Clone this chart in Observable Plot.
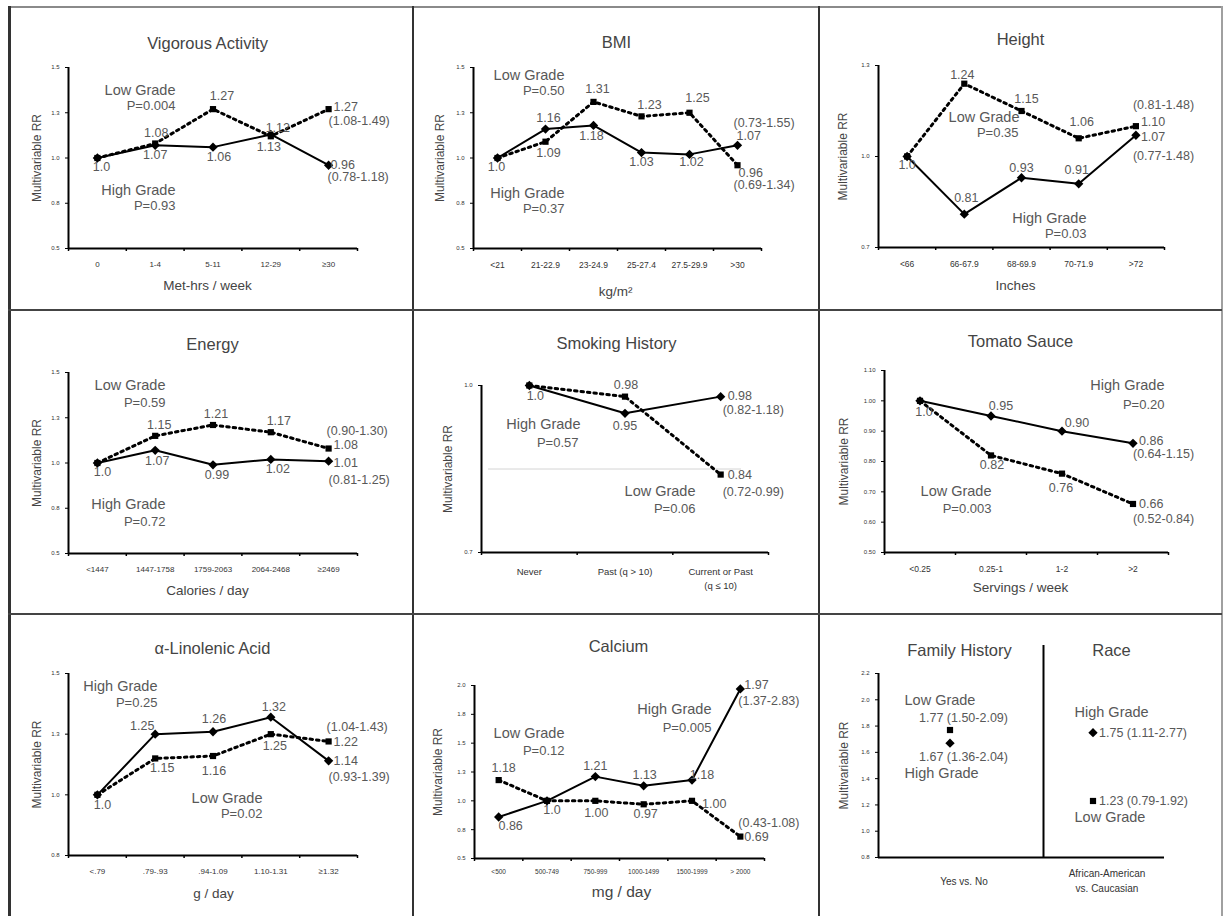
<!DOCTYPE html>
<html>
<head>
<meta charset="utf-8">
<script src="https://cdn.jsdelivr.net/npm/d3@7"></script>
<script src="https://cdn.jsdelivr.net/npm/@observablehq/plot@0.6"></script>
<style>
  html, body { margin: 0; padding: 0; background: #fff; }
  #page { position: relative; width: 1224px; height: 916px; overflow: hidden; background: #fff; }
  .bl { position: absolute; z-index: 5; }
</style>
</head>
<body>
<div id="page"></div>
<script>
// ---------------- DATA ----------------
const vigorousCats = ["0", "1-4", "5-11", "12-29", "≥30"];
const vigorousLow  = [1.00, 1.08, 1.27, 1.12, 1.27];
const vigorousHigh = [1.00, 1.07, 1.06, 1.13, 0.96];
const vigorousCI   = ["(1.08-1.49)", "(0.78-1.18)"];   // [low, high]
const vigorousP    = ["P=0.004", "P=0.93"];

const bmiCats = ["<21", "21-22.9", "23-24.9", "25-27.4", "27.5-29.9", ">30"];
const bmiLow  = [1.00, 1.09, 1.31, 1.23, 1.25, 0.96];
const bmiHigh = [1.00, 1.16, 1.18, 1.03, 1.02, 1.07];
const bmiCI   = ["(0.69-1.34)", "(0.73-1.55)"];
const bmiP    = ["P=0.50", "P=0.37"];

const heightCats = ["<66", "66-67.9", "68-69.9", "70-71.9", ">72"];
const heightLow  = [1.00, 1.24, 1.15, 1.06, 1.10];
const heightHigh = [1.00, 0.81, 0.93, 0.91, 1.07];
const heightCI   = ["(0.81-1.48)", "(0.77-1.48)"];
const heightP    = ["P=0.35", "P=0.03"];

const energyCats = ["<1447", "1447-1758", "1759-2063", "2064-2468", "≥2469"];
const energyLow  = [1.00, 1.15, 1.21, 1.17, 1.08];
const energyHigh = [1.00, 1.07, 0.99, 1.02, 1.01];
const energyCI   = ["(0.90-1.30)", "(0.81-1.25)"];
const energyP    = ["P=0.59", "P=0.72"];

const smokingCats = ["Never", "Past (q > 10)", "Current or Past\n(q ≤ 10)"];
const smokingLow  = [1.00, 0.98, 0.84];
const smokingHigh = [1.00, 0.95, 0.98];
const smokingCI   = ["(0.72-0.99)", "(0.82-1.18)"];
const smokingP    = ["P=0.06", "P=0.57"];

const tomatoCats = ["<0.25", "0.25-1", "1-2", ">2"];
const tomatoLow  = [1.00, 0.82, 0.76, 0.66];
const tomatoHigh = [1.00, 0.95, 0.90, 0.86];
const tomatoCI   = ["(0.52-0.84)", "(0.64-1.15)"];
const tomatoP    = ["P=0.003", "P=0.20"];

const linolenicCats = ["<.79", ".79-.93", ".94-1.09", "1.10-1.31", "≥1.32"];
const linolenicLow  = [1.00, 1.15, 1.16, 1.25, 1.22];
const linolenicHigh = [1.00, 1.25, 1.26, 1.32, 1.14];
const linolenicCI   = ["(1.04-1.43)", "(0.93-1.39)"];
const linolenicP    = ["P=0.02", "P=0.25"];

const calciumCats = ["<500", "500-749", "750-999", "1000-1499", "1500-1999", "> 2000"];
const calciumLow  = [1.18, 1.00, 1.00, 0.97, 1.00, 0.69];
const calciumHigh = [0.86, 1.00, 1.21, 1.13, 1.18, 1.97];
const calciumCI   = ["(0.43-1.08)", "(1.37-2.83)"];
const calciumP    = ["P=0.12", "P=0.005"];

const familyRaceCats   = ["Yes vs. No", "African-American\nvs. Caucasian"];
const familyRaceTitles = ["Family History", "Race"];
const familyRaceLow    = [1.77, 1.23];
const familyRaceHigh   = [1.67, 1.75];
const familyRaceLowCI  = ["(1.50-2.09)", "(0.79-1.92)"];
const familyRaceHighCI = ["(1.36-2.04)", "(1.11-2.77)"];

// tick values
const ticksHalfToOneHalf = [0.5, 0.75, 1.0, 1.25, 1.5];
const heightTicks     = [0.7, 1.0, 1.3];
const smokingTicks    = [0.7, 1.0];
const smokingGrid     = [0.85];
const tomatoTicks     = [0.5, 0.6, 0.7, 0.8, 0.9, 1.0, 1.1];
const linolenicTicks  = [0.75, 1.0, 1.25, 1.5];
const calciumTicks    = [0.5, 0.75, 1.0, 1.25, 1.5, 1.75, 2.0];
const familyRaceTicks = [0.8, 1.0, 1.2, 1.4, 1.6, 1.8, 2.0, 2.2];

const LOW = "Low Grade", HIGH = "High Grade", YLAB = "Multivariable RR";

// ---------------- LAYOUT ----------------
const FONT = '"Liberation Sans", Arial, Helvetica, sans-serif';
const TXT = "#585858";

const panels = [
  { cell: [9, 6, 404, 304], margin: [61, 56, 62, 59], cats: vigorousCats, low: vigorousLow, high: vigorousHigh, ci: vigorousCI, ref: 0,
    yDomain: [0.5, 1.5], yTicks: ticksHalfToOneHalf, yFmt: ".1f", catSize: 8,
    title: ["Vigorous Activity", 207, 43], xTitle: ["Met-hrs / week", 207, 285], yLabelX: 37,
    labels: [["h",0,4,9,"v"],["l",1,1,-11,"v"],["h",1,0,10,"v"],["l",2,9,-13,"v"],["h",2,6,10,"v"],["l",3,7,-8,"v"],["h",3,-2,13,"v"],
             ["l",4,5,-2,"vs"],["l",4,0,12,"ci"],["h",4,2,0,"vs"],["h",4,-1,12,"ci"]],
    groups: [[LOW,175,90],[vigorousP[0],175,105],[HIGH,175,190],[vigorousP[1],175,205]] },
  { cell: [413, 6, 405, 304], margin: [61, 57, 62, 60], cats: bmiCats, low: bmiLow, high: bmiHigh, ci: bmiCI, ref: 0,
    yDomain: [0.5, 1.5], yTicks: ticksHalfToOneHalf, yFmt: ".1f", catSize: 8.5,
    title: ["BMI", 616, 42], xTitle: ["kg/m²", 615, 291], yLabelX: 440,
    labels: [["h",0,-1,9,"v"],["h",1,3,-11,"v"],["l",1,3,11,"v"],["l",2,4,-13,"v"],["h",2,-2,11,"v"],["l",3,8,-11,"v"],["h",3,0,9,"v"],
             ["l",4,8,-15,"v"],["h",4,2,8,"v"],["h",5,-4,-22,"ci"],["h",5,-1,-9,"vs"],["l",5,1,8,"vs"],["l",5,-4,20,"ci"]],
    groups: [[LOW,564,75],[bmiP[0],564,90],[HIGH,564,193],[bmiP[1],564,208]] },
  { cell: [818, 6, 404, 304], margin: [59, 58, 63, 60], cats: heightCats, low: heightLow, high: heightHigh, ci: heightCI, ref: 0,
    yDomain: [0.7, 1.3], yTicks: heightTicks, yFmt: ".1f", catSize: 8.5,
    title: ["Height", 1020, 39], xTitle: ["Inches", 1015, 285], yLabelX: 843,
    labels: [["h",0,0,8,"v"],["l",1,-2,-9,"v"],["l",2,5,-12,"v"],["l",3,3,-16,"v"],["l",4,-3,-21,"ci"],["l",4,5,-4,"vs"],
             ["h",4,5,2,"vs"],["h",4,-3,21,"ci"],["h",2,0,-10,"v"],["h",3,-2,-14,"v"],["h",1,2,-16,"v"]],
    groups: [[LOW,1019,117],[heightP[0],1018,132],[HIGH,1086,218],[heightP[1],1086,233]] },
  { cell: [9, 310, 404, 304], margin: [62, 56, 61, 59], cats: energyCats, low: energyLow, high: energyHigh, ci: energyCI, ref: 0,
    yDomain: [0.5, 1.5], yTicks: ticksHalfToOneHalf, yFmt: ".1f", catSize: 8,
    title: ["Energy", 212, 344], xTitle: ["Calories / day", 207, 590], yLabelX: 37,
    labels: [["h",0,5,9,"v"],["l",1,4,-11,"v"],["l",2,3,-11,"v"],["l",3,8,-11,"v"],["l",4,-2,-18,"ci"],["l",4,5,-4,"vs"],
             ["h",4,5,2,"vs"],["h",4,0,19,"ci"],["h",1,2,11,"v"],["h",2,4,10,"v"],["h",3,7,10,"v"]],
    groups: [[LOW,165,385],[energyP[0],165,402],[HIGH,165,504],[energyP[1],165,521]] },
  { cell: [413, 310, 405, 304], margin: [75, 50, 62, 68], cats: smokingCats, low: smokingLow, high: smokingHigh, ci: smokingCI, ref: 0,
    yDomain: [0.7, 1.0], yTicks: smokingTicks, yFmt: ".1f", catSize: 9.5, catLH: 1.55,
    grid: smokingGrid, gridInset: [7, 27],
    title: ["Smoking History", 616, 343], xTitle: null, yLabelX: 448,
    labels: [["h",0,6,10,"v"],["l",1,1,-12,"v"],["h",1,0,13,"v"],["h",2,7,-1,"vs"],["h",2,2,13,"ci"],["l",2,7,0,"vs"],["l",2,2,17,"ci"]],
    groups: [[HIGH,580,424],[smokingP[1],578,442],[LOW,695,491],[smokingP[0],695,508]] },
  { cell: [818, 310, 404, 304], margin: [60, 54, 62, 66], cats: tomatoCats, low: tomatoLow, high: tomatoHigh, ci: tomatoCI, ref: 0,
    yDomain: [0.5, 1.1], yTicks: tomatoTicks, yFmt: ".2f", catSize: 8.5,
    title: ["Tomato Sauce", 1020, 341], xTitle: ["Servings / week", 1020, 587], yLabelX: 844,
    labels: [["h",0,4,11,"v"],["h",1,10,-10,"v"],["h",2,15,-8,"v"],["h",3,6,-2,"vs"],["h",3,0,11,"ci"],
             ["l",1,1,10,"v"],["l",2,-1,14,"v"],["l",3,6,0,"vs"],["l",3,0,15,"ci"]],
    groups: [[HIGH,1164,385],[tomatoP[1],1164,404],[LOW,991,491],[tomatoP[0],991,508]] },
  { cell: [9, 614, 404, 302], margin: [59, 56, 61, 59], cats: linolenicCats, low: linolenicLow, high: linolenicHigh, ci: linolenicCI, ref: 0,
    yDomain: [0.75, 1.5], yTicks: linolenicTicks, yFmt: ".1f", catSize: 8,
    title: ["α-Linolenic Acid", 212, 648], xTitle: ["g / day", 213, 893], yLabelX: 37,
    labels: [["h",0,5,10,"v"],["h",1,-13,-8,"v"],["h",2,1,-13,"v"],["h",3,3,-10,"v"],["l",1,7,10,"v"],["l",2,1,15,"v"],["l",3,4,12,"v"],
             ["l",4,-2,-14,"ci"],["l",4,5,1,"vs"],["h",4,5,0,"vs"],["h",4,0,16,"ci"]],
    groups: [[HIGH,157,686],[linolenicP[1],157,702],[LOW,262,798],[linolenicP[0],262,813]] },
  { cell: [413, 614, 405, 302], margin: [71, 54, 58, 61], cats: calciumCats, low: calciumLow, high: calciumHigh, ci: calciumCI, ref: 1,
    yDomain: [0.5, 2.0], yTicks: calciumTicks, yFmt: ".1f", catSize: 6.5, catDy: 12,
    title: ["Calcium", 618, 646], xTitle: ["mg / day", 621, 892], xTitleSize: 15.5, yLabelX: 438,
    labels: [["l",0,5,-12,"v"],["h",0,12,9,"v"],["h",1,5,9,"v"],["h",2,0,-11,"v"],["l",2,1,12,"v"],["h",3,1,-11,"v"],["l",3,2,10,"v"],
             ["h",4,10,-5,"v"],["l",4,10,3,"vs"],["h",5,4,-4,"vs"],["h",5,-2,12,"ci"],["l",5,-2,-14,"ci"],["l",5,4,0,"vs"]],
    groups: [[LOW,564,733],[calciumP[0],564,750],[HIGH,711,709],[calciumP[1],711,727]] },
  { cell: [818, 614, 404, 302], margin: [59, 58, 59, 60], cats: familyRaceCats, low: familyRaceLow, high: familyRaceHigh,
    ci: [familyRaceLowCI, familyRaceHighCI], ref: -1, noLines: true, noBoundTicks: true,
    yDomain: [0.8, 2.2], yTicks: familyRaceTicks, yFmt: ".1f", catSize: 10, catLH: 1.5, catMiddle: true, catDy: 22.5, catDx: 14,
    divider: { dx: 22, insetTop: -28 },
    titles: [[familyRaceTitles[0], 959, 650], [familyRaceTitles[1], 1111, 650]], xTitle: null, yLabelX: 844,
    labels: [["l",0,-31,-12,"vci"],["h",0,-31,14,"vci"],["h",1,6,0,"vci"],["l",1,6,0,"vci"]],
    groups: [[LOW,904,700,"start"],[HIGH,904,773,"start"],[HIGH,1074,712,"start"],[LOW,1074,817,"start"]] }
];

// ---------------- RENDER ----------------
const page = document.getElementById("page");
const f2 = d3.format(".2f");
const valText = (v, i, ref) => (i === ref ? "1.0" : f2(v));

function buildPanel(p) {
  const [cx, cy, cw, ch] = p.cell;
  const [mt, mr, mb, ml] = p.margin;
  const fx = cx + ml, fy = cy + mt;
  const innerH = ch - mt - mb;
  const n = p.cats.length;
  const idx = d3.range(n);
  const series = { l: p.low, h: p.high };
  const cis = { l: p.ci[0], h: p.ci[1] };
  const marks = [];

  const free = (t, px, py, o = {}) => Plot.text([t], {
    text: d => d, frameAnchor: "top-left", dx: px - fx, dy: py - fy,
    textAnchor: o.anchor || "middle", lineAnchor: "middle",
    fontSize: o.size || 15, fill: o.fill || TXT
  });

  if (p.grid) marks.push(Plot.ruleY(p.grid, { stroke: "#d4d4d4", strokeWidth: 1, insetLeft: p.gridInset[0], insetRight: p.gridInset[1] }));
  if (p.divider) marks.push(Plot.ruleX([(n - 1) / 2], { stroke: "#000", strokeWidth: 2, dx: p.divider.dx, insetTop: p.divider.insetTop }));

  // axis lines and ticks
  if (!p.noBoundTicks)
    marks.push(Plot.ruleX(d3.range(n + 1).map(i => i - 0.5), { stroke: "#000", strokeWidth: 1.5, insetTop: innerH, insetBottom: -3 }));
  marks.push(Plot.axisY({ ticks: p.yTicks, tickFormat: d3.format(p.yFmt), tickSize: 3, tickPadding: 6,
                          fontSize: 6, fill: "#333", stroke: "#000", label: null }));
  marks.push(Plot.ruleX([-0.5], { stroke: "#000", strokeWidth: 2 }));
  marks.push(Plot.ruleY([p.yDomain[0]], { stroke: "#000", strokeWidth: 2 }));

  // category labels
  const cs = p.catSize;
  marks.push(Plot.text(idx, {
    x: i => i, text: i => p.cats[i], frameAnchor: "bottom",
    dx: p.catDx || 0,
    dy: p.catMiddle ? p.catDy : (p.catDy || 15) - 0.36 * cs,
    lineAnchor: p.catMiddle ? "middle" : "top",
    lineHeight: p.catLH || 1.2, fontSize: cs, fill: "#333"
  }));

  // series
  if (!p.noLines) {
    marks.push(Plot.line(idx, { x: i => i, y: i => p.low[i], stroke: "#000", strokeWidth: 3, strokeDasharray: "2.5,4" }));
    marks.push(Plot.line(idx, { x: i => i, y: i => p.high[i], stroke: "#000", strokeWidth: 2 }));
  }
  marks.push(Plot.dot(idx, { x: i => i, y: i => p.low[i], symbol: "square", r: 3.5, fill: "#000" }));
  marks.push(Plot.dot(idx, { x: i => i, y: i => p.high[i], symbol: "diamond2", r: 4.2, fill: "#000" }));

  // value labels
  for (const [s, i, dx, dy, kind] of p.labels) {
    const v = series[s][i];
    const ciText = Array.isArray(cis[s]) ? cis[s][i] : cis[s];
    let t, anchor = "start";
    if (kind === "v") { t = valText(v, i, p.ref); anchor = "middle"; }
    else if (kind === "vs") t = valText(v, i, p.ref);
    else if (kind === "ci") t = ciText;
    else t = f2(v) + " " + ciText;
    marks.push(Plot.text([{ x: i, y: v, t }], {
      x: "x", y: "y", text: "t", dx, dy, textAnchor: anchor, lineAnchor: "middle", fontSize: 12.5, fill: TXT
    }));
  }

  // group labels ("Low/High Grade" larger, P-values slightly smaller)
  for (const [t, px, py, a] of p.groups)
    marks.push(free(t, px, py, { anchor: a || "end", size: t.startsWith("P") ? 13 : 14.5 }));

  // titles
  const titles = p.titles || [p.title];
  for (const [t, px, py] of titles) marks.push(free(t, px, py, { size: 16.5, fill: "#444" }));
  if (p.xTitle) marks.push(free(p.xTitle[0], p.xTitle[1], p.xTitle[2], { size: p.xTitleSize || 13.5, fill: "#444" }));
  marks.push(Plot.text([YLAB], { text: d => d, frameAnchor: "left", dx: p.yLabelX - fx, rotate: -90,
                                 textAnchor: "middle", lineAnchor: "middle", fontSize: 12, fill: "#444" }));

  const svg = Plot.plot({
    width: cw, height: ch,
    marginTop: mt, marginRight: mr, marginBottom: mb, marginLeft: ml,
    x: { type: "linear", domain: [-0.5, n - 0.5], axis: null },
    y: { type: "linear", domain: p.yDomain },
    style: { fontFamily: FONT, background: "transparent", overflow: "visible" },
    marks
  });
  svg.style.position = "absolute";
  svg.style.left = cx + "px";
  svg.style.top = cy + "px";
  svg.style.maxWidth = "none";
  page.appendChild(svg);
}

panels.forEach(buildPanel);

// table borders
const borders = [
  [8, 6, 1214, 1.5, "#8a8a8a"],   // top
  [8, 6, 2.5, 910, "#333"],       // left
  [1221, 6, 1.5, 910, "#a0a0a0"], // right
  [412, 6, 2, 910, "#333"],
  [818, 6, 2, 910, "#333"],
  [8, 309, 1214, 2, "#444"],
  [8, 613, 1214, 2, "#444"]
];
for (const [x, y, w, h, c] of borders) {
  const d = document.createElement("div");
  d.className = "bl";
  Object.assign(d.style, { left: x + "px", top: y + "px", width: w + "px", height: h + "px", background: c });
  page.appendChild(d);
}
</script>
</body>
</html>
